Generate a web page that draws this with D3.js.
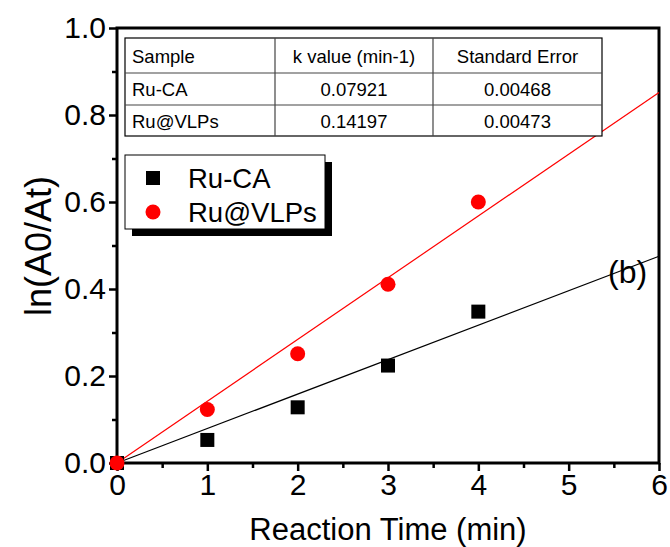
<!DOCTYPE html>
<html>
<head>
<meta charset="utf-8">
<script src="https://cdn.jsdelivr.net/npm/d3@7"></script>
<style>
  body { margin: 0; background: #fff; }
  text { font-family: "Liberation Sans", Arial, sans-serif; }
</style>
</head>
<body>
<svg id="chart" width="670" height="547"></svg>
<script>
// data
const times = [0, 1, 2, 3, 4];
const ruCA = [0, 0.053, 0.128, 0.224, 0.348];
const ruVLP = [0, 0.123, 0.251, 0.411, 0.600];
const kValues = [0.07921, 0.14197];
const tableHeader = ["Sample", "k value (min-1)", "Standard Error"];
const tableRows = [
  ["Ru-CA", "0.07921", "0.00468"],
  ["Ru@VLPs", "0.14197", "0.00473"]
];
const xTicks = [0, 1, 2, 3, 4, 5, 6];
const yTicks = [0, 0.2, 0.4, 0.6, 0.8, 1.0];

const svg = d3.select("#chart");
const margin = { top: 28, right: 11, bottom: 84, left: 117 };
const width = 670, height = 547;
const font = "Liberation Sans, Arial, sans-serif";

const x = d3.scaleLinear().domain([0, 6]).range([margin.left, width - margin.right]);
const y = d3.scaleLinear().domain([0, 1]).range([height - margin.bottom, margin.top]);

// minor ticks
svg.append("g")
  .attr("transform", `translate(0,${y(0)})`)
  .call(d3.axisBottom(x).tickValues(d3.range(0.5, 6, 1)).tickSize(5).tickFormat(""))
  .call(g => g.select(".domain").remove())
  .call(g => g.selectAll("line").attr("stroke-width", 2.5));
svg.append("g")
  .attr("transform", `translate(${x(0)},0)`)
  .call(d3.axisLeft(y).tickValues(d3.range(0.1, 1, 0.2)).tickSize(5).tickFormat(""))
  .call(g => g.select(".domain").remove())
  .call(g => g.selectAll("line").attr("stroke-width", 2.5));

// major axes
svg.append("g")
  .attr("transform", `translate(0,${y(0)})`)
  .call(d3.axisBottom(x).tickValues(xTicks).tickSize(8).tickPadding(3).tickFormat(d3.format("d")))
  .call(g => g.select(".domain").remove())
  .call(g => g.selectAll("line").attr("stroke-width", 2.5))
  .call(g => g.selectAll("text").attr("font-size", 30).attr("fill", "#000").attr("font-family", font));
svg.append("g")
  .attr("transform", `translate(${x(0)},0)`)
  .call(d3.axisLeft(y).tickValues(yTicks).tickSize(8).tickPadding(3).tickFormat(d3.format(".1f")))
  .call(g => g.select(".domain").remove())
  .call(g => g.selectAll("line").attr("stroke-width", 2.5))
  .call(g => g.selectAll("text").attr("font-size", 30).attr("fill", "#000").attr("font-family", font));

// frame
svg.append("rect")
  .attr("x", x(0)).attr("y", y(1))
  .attr("width", x(6) - x(0)).attr("height", y(0) - y(1))
  .attr("fill", "none").attr("stroke", "#000").attr("stroke-width", 3);

// fit lines
const fitColors = ["#000", "#ff0000"];
kValues.forEach((k, i) => {
  svg.append("line")
    .attr("x1", x(0)).attr("y1", y(0))
    .attr("x2", x(6)).attr("y2", y(k * 6))
    .attr("stroke", fitColors[i]).attr("stroke-width", 1.2);
});

// points
svg.selectAll("rect.sq")
  .data(times.map((t, i) => [t, ruCA[i]]))
  .enter().append("rect")
  .attr("class", "sq")
  .attr("x", d => x(d[0]) - 7).attr("y", d => y(d[1]) - 7)
  .attr("width", 14).attr("height", 14)
  .attr("fill", "#000");
svg.selectAll("circle.pt")
  .data(times.map((t, i) => [t, ruVLP[i]]))
  .enter().append("circle")
  .attr("class", "pt")
  .attr("cx", d => x(d[0])).attr("cy", d => y(d[1]))
  .attr("r", 7.5)
  .attr("fill", "#ff0000");

// table
const colX = [125, 275, 433, 602];
const rowY = [38, 73, 105, 136];
const table = svg.append("g");
table.append("rect")
  .attr("x", colX[0]).attr("y", rowY[0])
  .attr("width", colX[3] - colX[0]).attr("height", rowY[3] - rowY[0])
  .attr("fill", "#fff").attr("stroke", "#000").attr("stroke-width", 1.2);
[1, 2].forEach(c => table.append("line")
  .attr("x1", colX[c]).attr("x2", colX[c]).attr("y1", rowY[0]).attr("y2", rowY[3])
  .attr("stroke", "#444").attr("stroke-width", 1.2));
[1, 2].forEach(r => table.append("line")
  .attr("x1", colX[0]).attr("x2", colX[3]).attr("y1", rowY[r]).attr("y2", rowY[r])
  .attr("stroke", "#444").attr("stroke-width", 1.2));
[tableHeader, ...tableRows].forEach((row, r) => {
  row.forEach((cell, c) => {
    table.append("text")
      .attr("x", c === 0 ? colX[0] + 7 : (colX[c] + colX[c + 1]) / 2)
      .attr("y", (rowY[r] + rowY[r + 1]) / 2 + 7)
      .attr("text-anchor", c === 0 ? "start" : "middle")
      .attr("font-size", 18.5)
      .text(cell);
  });
});

// legend
const leg = svg.append("g");
leg.append("rect").attr("x", 132).attr("y", 162).attr("width", 200).attr("height", 74).attr("fill", "#000");
leg.append("rect").attr("x", 125).attr("y", 155).attr("width", 200).attr("height", 74)
  .attr("fill", "#fff").attr("stroke", "#000").attr("stroke-width", 1);
leg.append("rect").attr("x", 146).attr("y", 171).attr("width", 14).attr("height", 14).attr("fill", "#000");
leg.append("circle").attr("cx", 153).attr("cy", 212).attr("r", 7.5).attr("fill", "#ff0000");
leg.append("text").attr("x", 188).attr("y", 188).attr("font-size", 27.5).text("Ru-CA");
leg.append("text").attr("x", 188).attr("y", 222).attr("font-size", 27.5).text("Ru@VLPs");

// panel label
svg.append("text").attr("x", 608).attr("y", 283).attr("font-size", 32).text("(b)");

// axis titles
svg.append("text")
  .attr("x", x(3)).attr("y", 540)
  .attr("text-anchor", "middle").attr("font-size", 31)
  .text("Reaction Time (min)");
svg.append("text")
  .attr("transform", "rotate(-90)")
  .attr("x", -246).attr("y", 51)
  .attr("text-anchor", "middle").attr("font-size", 36)
  .text("ln(A0/At)");
</script>
</body>
</html>
